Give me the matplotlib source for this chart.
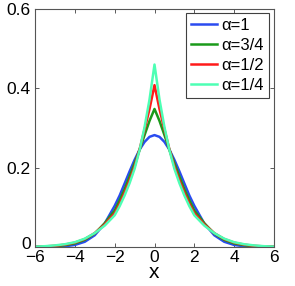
import numpy as np
import matplotlib
matplotlib.use('Agg')
from matplotlib import pyplot as plt
from matplotlib import transforms

plt.rcParams['font.family'] = ['Liberation Sans', 'DejaVu Sans']

x = [-6, -5.5, -5, -4.5, -4, -3.5, -3, -2.5, -2, -1.75, -1.5, -1.25, -1, -0.75, -0.5, -0.25,
     0, 0.25, 0.5, 0.75, 1, 1.25, 1.5, 1.75, 2, 2.5, 3, 3.5, 4, 4.5, 5, 5.5, 6]

# alpha = 1
y_a1 = [0.0000, 0.0001, 0.0005, 0.0018, 0.0052, 0.0132, 0.0297, 0.0593, 0.1038, 0.1298, 0.1601,
        0.1907, 0.2197, 0.2452, 0.2649, 0.2777, 0.2821, 0.2777, 0.2649, 0.2452, 0.2197, 0.1907,
        0.1601, 0.1298, 0.1038, 0.0593, 0.0297, 0.0132, 0.0052, 0.0018, 0.0005, 0.0001, 0.0000]
# alpha = 3/4
y_a34 = [0.0004, 0.001, 0.002, 0.0045, 0.009, 0.018, 0.034, 0.060, 0.092, 0.118, 0.146,
         0.178, 0.211, 0.245, 0.282, 0.318, 0.348, 0.318, 0.282, 0.245, 0.211, 0.178,
         0.146, 0.118, 0.092, 0.060, 0.034, 0.018, 0.009, 0.0045, 0.002, 0.001, 0.0004]
# alpha = 1/2
y_a12 = [0.0008, 0.0015, 0.003, 0.006, 0.011, 0.020, 0.035, 0.057, 0.085, 0.109, 0.137,
         0.168, 0.203, 0.246, 0.296, 0.348, 0.408, 0.348, 0.296, 0.246, 0.203, 0.168,
         0.137, 0.109, 0.085, 0.057, 0.035, 0.020, 0.011, 0.006, 0.003, 0.0015, 0.0008]
# alpha = 1/4
y_a14 = [0.001, 0.002, 0.004, 0.007, 0.012, 0.021, 0.035, 0.054, 0.080, 0.103, 0.130,
         0.161, 0.197, 0.244, 0.302, 0.372, 0.460, 0.372, 0.302, 0.244, 0.197, 0.161,
         0.130, 0.103, 0.080, 0.054, 0.035, 0.021, 0.012, 0.007, 0.004, 0.002, 0.001]

labels = ['α=1', 'α=3/4', 'α=1/2', 'α=1/4']
colors = ['#2a4bf0', '#1a9a1a', '#ff1a1a', '#4dffb4']

fig = plt.figure(figsize=(2.95, 2.86), dpi=100)
ax = fig.add_axes([35/295, 39/286, 239/295, 238/286])

for ys, lab, c in zip([y_a1, y_a34, y_a12, y_a14], labels, colors):
    ax.plot(x, ys, color=c, lw=1.8, label=lab)

ax.set_xlim(-6, 6)
ax.set_ylim(0, 0.6)
ax.set_xticks([-6, -4, -2, 0, 2, 4, 6])
ax.set_xticklabels(['\u22126', '\u22124', '\u22122', '0', '2', '4', '6'])
ax.set_yticks([0, 0.2, 0.4, 0.6])
ax.set_yticklabels(['0', '0.2', '0.4', '0.6'])
ax.tick_params(direction='in', top=True, right=True, length=3, width=0.6,
               labelsize=12.5, colors='#404040', labelcolor='black')
ax.tick_params(axis='x', pad=2)
ax.tick_params(axis='y', pad=3)
for s in ax.spines.values():
    s.set_color('#555555')
    s.set_linewidth(0.8)
ax.set_xlabel('x', fontsize=15, labelpad=-1)

# nudge the y "0" label up a little, as in the original
zero_lab = ax.get_yticklabels()[0]
zero_lab.set_transform(zero_lab.get_transform() +
                       transforms.ScaledTranslation(0, 4/100, fig.dpi_scale_trans))

leg = ax.legend(loc='upper right', bbox_to_anchor=(0.979, 0.983), fontsize=12,
                fancybox=False, edgecolor='#404040', framealpha=1, handlelength=1.6,
                handletextpad=0.25, labelspacing=0.3, borderpad=0.3, borderaxespad=0)
leg.get_frame().set_linewidth(0.8)

plt.savefig('out.png', dpi=100)
